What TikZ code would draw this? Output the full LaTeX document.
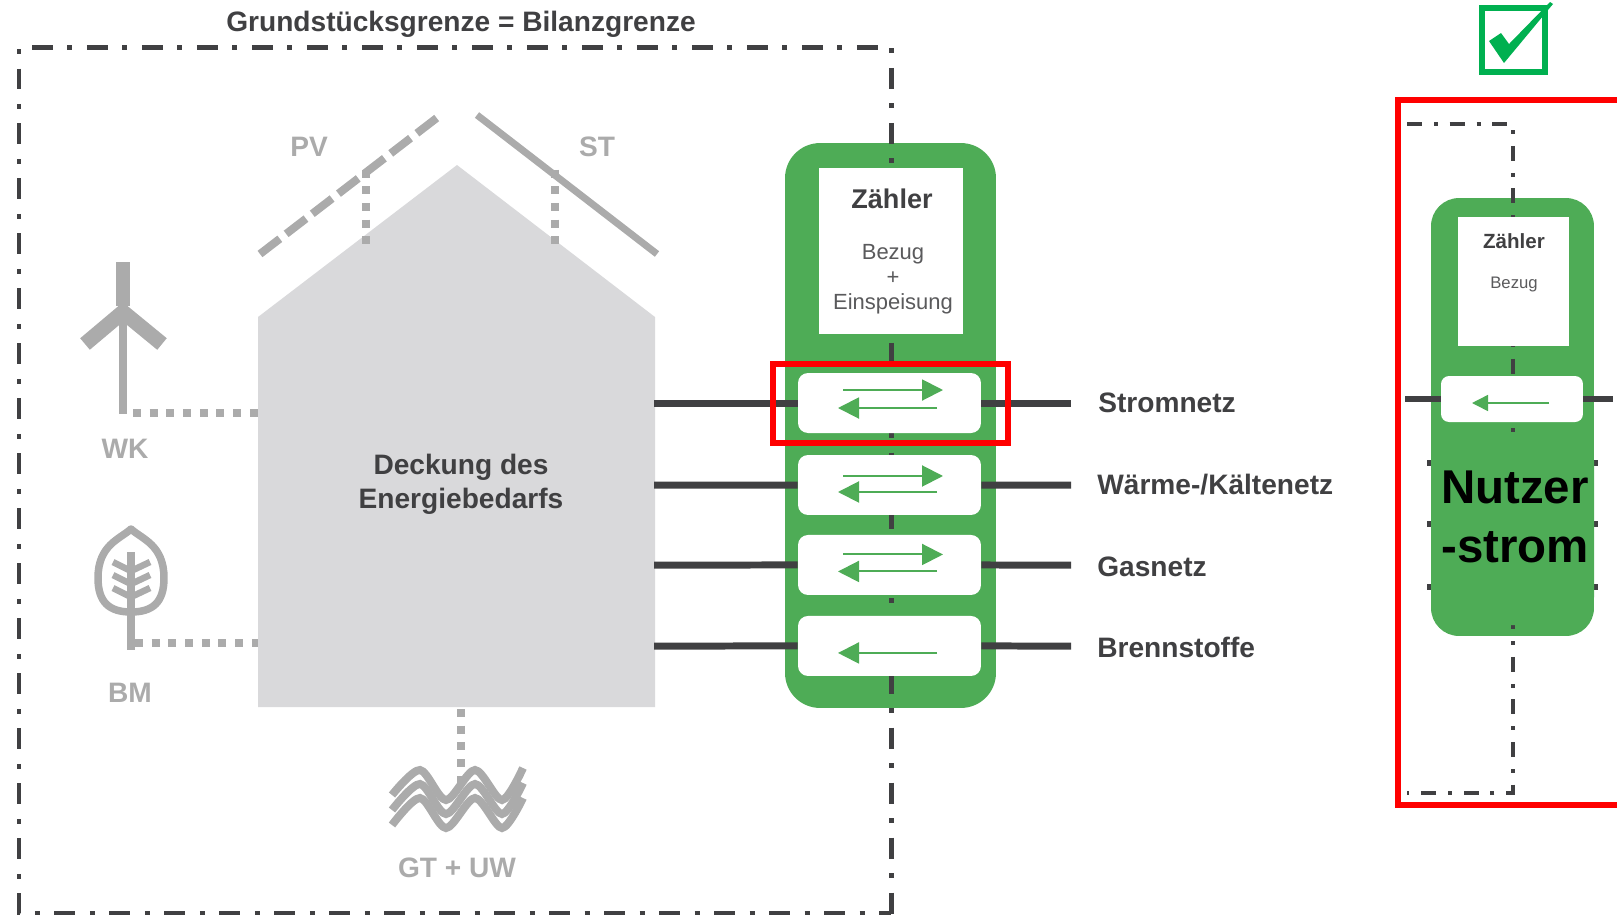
\documentclass[tikz,border=0pt]{standalone}
\usepackage{fontspec}
\setmainfont{Liberation Sans}
\usetikzlibrary{arrows.meta, positioning, calc}
\definecolor{mygreen}{RGB}{78, 172, 86}
\definecolor{mycheck}{RGB}{0, 176, 80}
\definecolor{mydark}{RGB}{64, 64, 66}
\definecolor{mygrey}{RGB}{171, 171, 171}
\definecolor{myhouse}{RGB}{217, 217, 219}
\definecolor{mytext}{RGB}{90, 90, 92}

\begin{document}
\begin{tikzpicture}[
    x=0.02cm, y=-0.02cm,
    shell/.style={rectangle, fill=mygreen, rounded corners=0.7cm, inner sep=0},
    counter/.style={rectangle, fill=white, inner sep=0},
    port/.style={rectangle, fill=white, rounded corners=0.2cm, minimum width=3.66cm, minimum height=1.2cm, inner sep=0},
    limit/.style={draw=mydark, line width=0.1cm, dash pattern=on 0.42cm off 0.29cm on 0.1cm off 0.29cm},
    limitsmall/.style={draw=mydark, line width=0.08cm, dash pattern=on 0.3cm off 0.24cm on 0.08cm off 0.232cm},
    netbar/.style={draw=mydark, line width=0.14cm},
    flow/.style={draw=mygreen, line width=0.04cm, -{Triangle[length=0.42cm,width=0.42cm]}},
    flowsmall/.style={draw=mygreen, line width=0.03cm, -{Triangle[length=0.32cm,width=0.32cm]}},
    dotline/.style={draw=mygrey, line width=0.16cm, dash pattern=on 0.16cm off 0.174cm},
    icon/.style={draw=mygrey, line join=round},
    wave/.style={draw=mygrey, line width=0.16cm},
    frame/.style={draw=red, line width=0.12cm},
    title/.style={inner sep=0, text=mydark, font=\fontsize{16}{19.3}\selectfont\bfseries, align=center},
    source/.style={inner sep=0, text=mygrey, font=\fontsize{16}{18}\selectfont\bfseries}
]
\useasboundingbox (0,0) rectangle (1617,914);

% House
\fill[myhouse] (258,317) -- (457,165) -- (655,317) -- (655,707) -- (258,707) -- cycle;
\coordinate (house_w1) at (258,413);
\coordinate (house_w2) at (258,643);
\coordinate (house_s) at (461,709);
\coordinate (house_e1) at (654,403);
\coordinate (house_e2) at (654,485);
\coordinate (house_e3) at (654,565);
\coordinate (house_e4) at (654,646);
\node[title] (demand) at (461,484) {Deckung des\\Energiebedarfs};
\node[title] (limit_label) at (461,24) {Grundstücksgrenze = Bilanzgrenze};

% Roof
\coordinate (pv_a) at (260,254);
\coordinate (pv_b) at (438,117);
\coordinate (st_a) at (477,115);
\coordinate (st_b) at (657,254);
\draw[draw=mygrey, line width=0.16cm, dash pattern=on 0.5cm off 0.16cm] (pv_a) -- (pv_b);
\draw[draw=mygrey, line width=0.14cm] (st_a) -- (st_b);
\node[source] (pv_label) at (309,147) {PV};
\node[source] (st_label) at (597,147) {ST};
\coordinate (pv_top) at (366,169.5);
\coordinate (pv_end) at (366,248);
\coordinate (st_top) at (555,169.5);
\coordinate (st_end) at (555,248);
\draw[dotline] (pv_top) -- (pv_end);
\draw[dotline] (st_top) -- (st_end);

% Wind
\draw[icon, line width=0.3cm] (123,262) -- (123,306);
\draw[icon, line width=0.16cm] (123,300) -- (123,414);
\draw[icon, line width=0.3cm] (85,344) -- (123,312) -- (162,344);
\coordinate (wk_foot) at (133,413);
\draw[dotline] (wk_foot) -- (house_w1);
\node[source] (wk_label) at (125,449) {WK};

% Biomass
\draw[icon, line width=0.15cm] (131,529) .. controls (120,539) and (98,545) .. (98,578) .. controls (98,603) and (110,612) .. (131,612) .. controls (152,612) and (164,603) .. (164,578) .. controls (164,545) and (142,539) .. (131,529) -- cycle;
\draw[icon, line width=0.16cm] (131,552) -- (131,650);
\draw[icon, line width=0.13cm] (113,562) -- (131,571) -- (150,562);
\draw[icon, line width=0.13cm] (113,575) -- (131,584) -- (150,575);
\draw[icon, line width=0.13cm] (113,588) -- (131,597) -- (150,588);
\coordinate (bm_foot) at (135,643);
\draw[dotline] (bm_foot) -- (house_w2);
\node[source] (bm_label) at (130,693) {BM};

% Ground
\coordinate (gt_top) at (461,785);
\draw[dotline] (house_s) -- (gt_top);
\draw[wave] plot[smooth] coordinates {(392,795) (420,770) (446,800) (475,770) (502,800) (523,768)};
\draw[wave] plot[smooth] coordinates {(392,810) (420,784) (446,814) (475,784) (502,814) (523,783)};
\draw[wave] plot[smooth] coordinates {(392,825) (420,798) (446,828) (475,798) (502,828) (523,798)};
\node[source] (gt_label) at (457,868) {GT + UW};

% Meter
\node[shell, minimum width=4.22cm, minimum height=11.3cm] (meter) at (890.5,425.5) {};
\draw[limit] (32,47) -- (891,47) -- (891,914);
\draw[limit, dash pattern=on 0.1cm off 0.29cm on 0.42cm off 0.29cm] (19,49) -- (19,913) -- (891,913);
\node[counter, minimum width=2.88cm, minimum height=3.32cm] (count) at (891,251) {};
\node[title, font=\fontsize{15.4}{18}\selectfont\bfseries] (count_title) at (892,199) {Zähler};
\node[inner sep=0, text=mytext, align=center, font=\fontsize{12.5}{14.2}\selectfont] (count_text) at (893,279) {Bezug\\+\\Einspeisung};

% Ports
\node[port] (port_strom) at (889.5,403) {};
\node[port, below=0.426cm of port_strom] (port_waerme) {};
\node[port, below=0.386cm of port_waerme] (port_gas) {};
\node[port, below=0.406cm of port_gas] (port_fuel) {};

% Bars
\draw[netbar] (house_e1) -- (port_strom);
\draw[netbar] (house_e2) -- (port_waerme);
\draw[netbar] (house_e3) -- (port_gas);
\draw[netbar] (house_e4) -- (port_fuel);
\coordinate (strom_r) at (1071,403);
\coordinate (waerme_r) at (1071,485);
\coordinate (gas_r) at (1071,565);
\coordinate (fuel_r) at (1071,646);
\draw[netbar] (port_strom) -- (strom_r);
\draw[netbar] (port_waerme) -- (waerme_r);
\draw[netbar] (port_gas) -- (gas_r);
\draw[netbar] (port_fuel) -- (fuel_r);

% Arrows
\draw[flow] ($(port_strom.center)+(-46.5,-13)$) -- ($(port_strom.center)+(53.5,-13)$);
\draw[flow] ($(port_strom.center)+(47.5,5)$) -- ($(port_strom.center)+(-51.5,5)$);
\draw[flow] ($(port_waerme.center)+(-46.5,-9)$) -- ($(port_waerme.center)+(53.5,-9)$);
\draw[flow] ($(port_waerme.center)+(47.5,7)$) -- ($(port_waerme.center)+(-51.5,7)$);
\draw[flow] ($(port_gas.center)+(-46.5,-10.5)$) -- ($(port_gas.center)+(53.5,-10.5)$);
\draw[flow] ($(port_gas.center)+(47.5,6.5)$) -- ($(port_gas.center)+(-51.5,6.5)$);
\draw[flow] ($(port_fuel.center)+(47.5,7)$) -- ($(port_fuel.center)+(-51.5,7)$);

% Net labels
\node[title, right=0.54cm of strom_r] (strom_label) {Stromnetz};
\node[title, right=0.52cm of waerme_r] (waerme_label) {Wärme-/Kältenetz};
\node[title, right=0.52cm of gas_r, yshift=-0.03cm] (gas_label) {Gasnetz};
\node[title, right=0.52cm of fuel_r, yshift=-0.03cm] (fuel_label) {Brennstoffe};

\node[frame, rectangle, minimum width=4.7cm, minimum height=1.58cm] (mark) at (890.5,403.5) {};

% Check mark
\node[rectangle, draw=mycheck, line width=0.12cm, minimum width=1.26cm, minimum height=1.28cm] (check) at (1513.5,40) {};
\fill[mycheck] (1489,41) -- (1501,33) -- (1509,44) -- (1550,2) -- (1553,4) -- (1504,63) -- cycle;

% Second panel
\draw[frame] (1617,100) -- (1398,100) -- (1398,805) -- (1617,805);
\draw[netbar, line width=0.11cm] (1427,463) -- (1598,463);
\draw[netbar, line width=0.11cm] (1427,524) -- (1598,524);
\draw[netbar, line width=0.11cm] (1427,587) -- (1598,587);
\node[shell, rounded corners=0.56cm, minimum width=3.26cm, minimum height=8.76cm] (meter_small) at (1512.5,417) {};
\draw[limitsmall] (1407,124) -- (1513,124) -- (1513,793) -- (1407,793);
\node[counter, minimum width=2.22cm, minimum height=2.58cm] (count_small) at (1513.5,281.5) {};
\node[title, font=\fontsize{11.7}{14}\selectfont\bfseries] (small_title) at (1514,241) {Zähler};
\node[inner sep=0, text=mytext, font=\fontsize{9.5}{11}\selectfont] (small_text) at (1514,284) {Bezug};
\node[port, rounded corners=0.16cm, minimum width=2.84cm, minimum height=0.92cm] (port_small) at (1512,399) {};
\coordinate (small_l) at (1405,399);
\coordinate (small_r) at (1613,399);
\draw[netbar, line width=0.11cm] (small_l) -- (port_small);
\draw[netbar, line width=0.11cm] (port_small) -- (small_r);
\draw[flowsmall] ($(port_small.center)+(37,4)$) -- ($(port_small.center)+(-40,4)$);

% Cover on the second panel
\fill[mygreen, rounded corners=0.56cm] (1431,433) -- (1431,625) -- (1594,625) -- (1594,433) -- cycle;
\node[inner sep=0, align=center, text=black, font=\fontsize{27}{33.6}\selectfont\bfseries] (user_text) at (1515,517) {Nutzer\\-strom};

\end{tikzpicture}
\end{document}
